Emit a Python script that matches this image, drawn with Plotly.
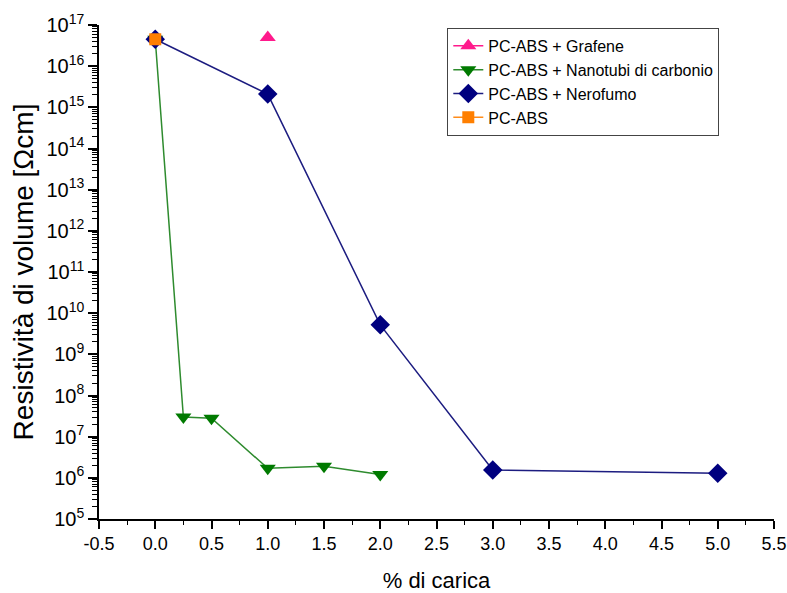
import plotly.graph_objects as go

# Data
graf_x = [1.0]
graf_y = [5.0e16]
cnt_x = [0.0, 0.25, 0.5, 1.0, 1.5, 2.0]
cnt_y = [4.5e16, 3.0e7, 2.8e7, 1.7e6, 1.9e6, 1.2e6]
cb_x = [0.0, 1.0, 2.0, 3.0, 5.0]
cb_y = [4.5e16, 2.1e15, 5.2e9, 1.55e6, 1.3e6]
pc_x = [0.0]
pc_y = [4.5e16]

x_ticks = [-0.5, 0.0, 0.5, 1.0, 1.5, 2.0, 2.5, 3.0, 3.5, 4.0, 4.5, 5.0, 5.5]
x_ticklabels = ["-0.5", "0.0", "0.5", "1.0", "1.5", "2.0", "2.5", "3.0", "3.5", "4.0", "4.5", "5.0", "5.5"]
y_exps = list(range(5, 18))

FONT = "Liberation Sans, Arial, sans-serif"

fig = go.Figure()
fig.add_trace(go.Scatter(x=graf_x, y=graf_y, mode="lines+markers", name="PC-ABS + Grafene",
                         line=dict(color="#ff1a8c", width=1.5),
                         marker=dict(symbol="triangle-up", size=14, color="#ff1a8c")))
fig.add_trace(go.Scatter(x=cnt_x, y=cnt_y, mode="lines+markers", name="PC-ABS + Nanotubi di carbonio",
                         line=dict(color="#2e8b2e", width=1.5),
                         marker=dict(symbol="triangle-down", size=14, color="#007a00")))
fig.add_trace(go.Scatter(x=cb_x, y=cb_y, mode="lines+markers", name="PC-ABS + Nerofumo",
                         line=dict(color="#1c1c80", width=1.5),
                         marker=dict(symbol="diamond", size=15, color="#00007f")))
fig.add_trace(go.Scatter(x=pc_x, y=pc_y, mode="lines+markers", name="PC-ABS",
                         line=dict(color="#ff8c1a", width=1.5),
                         marker=dict(symbol="square", size=12, color="#ff7f00")))

fig.update_layout(
    width=787, height=593,
    margin=dict(l=99, r=13, t=25, b=74),
    paper_bgcolor="white", plot_bgcolor="white",
    font=dict(family=FONT, color="black"),
    showlegend=True,
    legend=dict(x=0.516, y=0.994, xanchor="left", yanchor="top",
                bordercolor="#444", borderwidth=1, bgcolor="white",
                font=dict(size=16, family=FONT), tracegroupgap=0),
    xaxis=dict(range=[-0.5, 5.5], tickmode="array", tickvals=x_ticks, ticktext=x_ticklabels,
               ticks="outside", ticklen=8, tickwidth=1.5, tickcolor="black",
               showline=True, linecolor="black", linewidth=1.5,
               showgrid=False, zeroline=False, automargin=False,
               tickfont=dict(size=18, family=FONT),
               minor=dict(dtick=0.25, tick0=-0.5,
                          ticks="outside", ticklen=4, tickwidth=1.2, tickcolor="black", showgrid=False),
               title=dict(text="% di carica", font=dict(size=22, family=FONT), standoff=22)),
    yaxis=dict(type="log", range=[5, 17], tickmode="array",
               tickvals=[10 ** e for e in y_exps],
               ticktext=["10<sup>%d</sup>" % e for e in y_exps],
               ticks="outside", ticklen=9, tickwidth=1.5, tickcolor="black",
               showline=True, linecolor="black", linewidth=1.5,
               showgrid=False, zeroline=False, automargin=False,
               tickfont=dict(size=20, family=FONT),
               minor=dict(dtick="D1",
                          ticks="outside", ticklen=5, tickwidth=1, tickcolor="black", showgrid=False),
               title=dict(text="Resistività di volume [Ωcm]", font=dict(size=28, family=FONT), standoff=5)),
)

fig.write_html("out.html")
